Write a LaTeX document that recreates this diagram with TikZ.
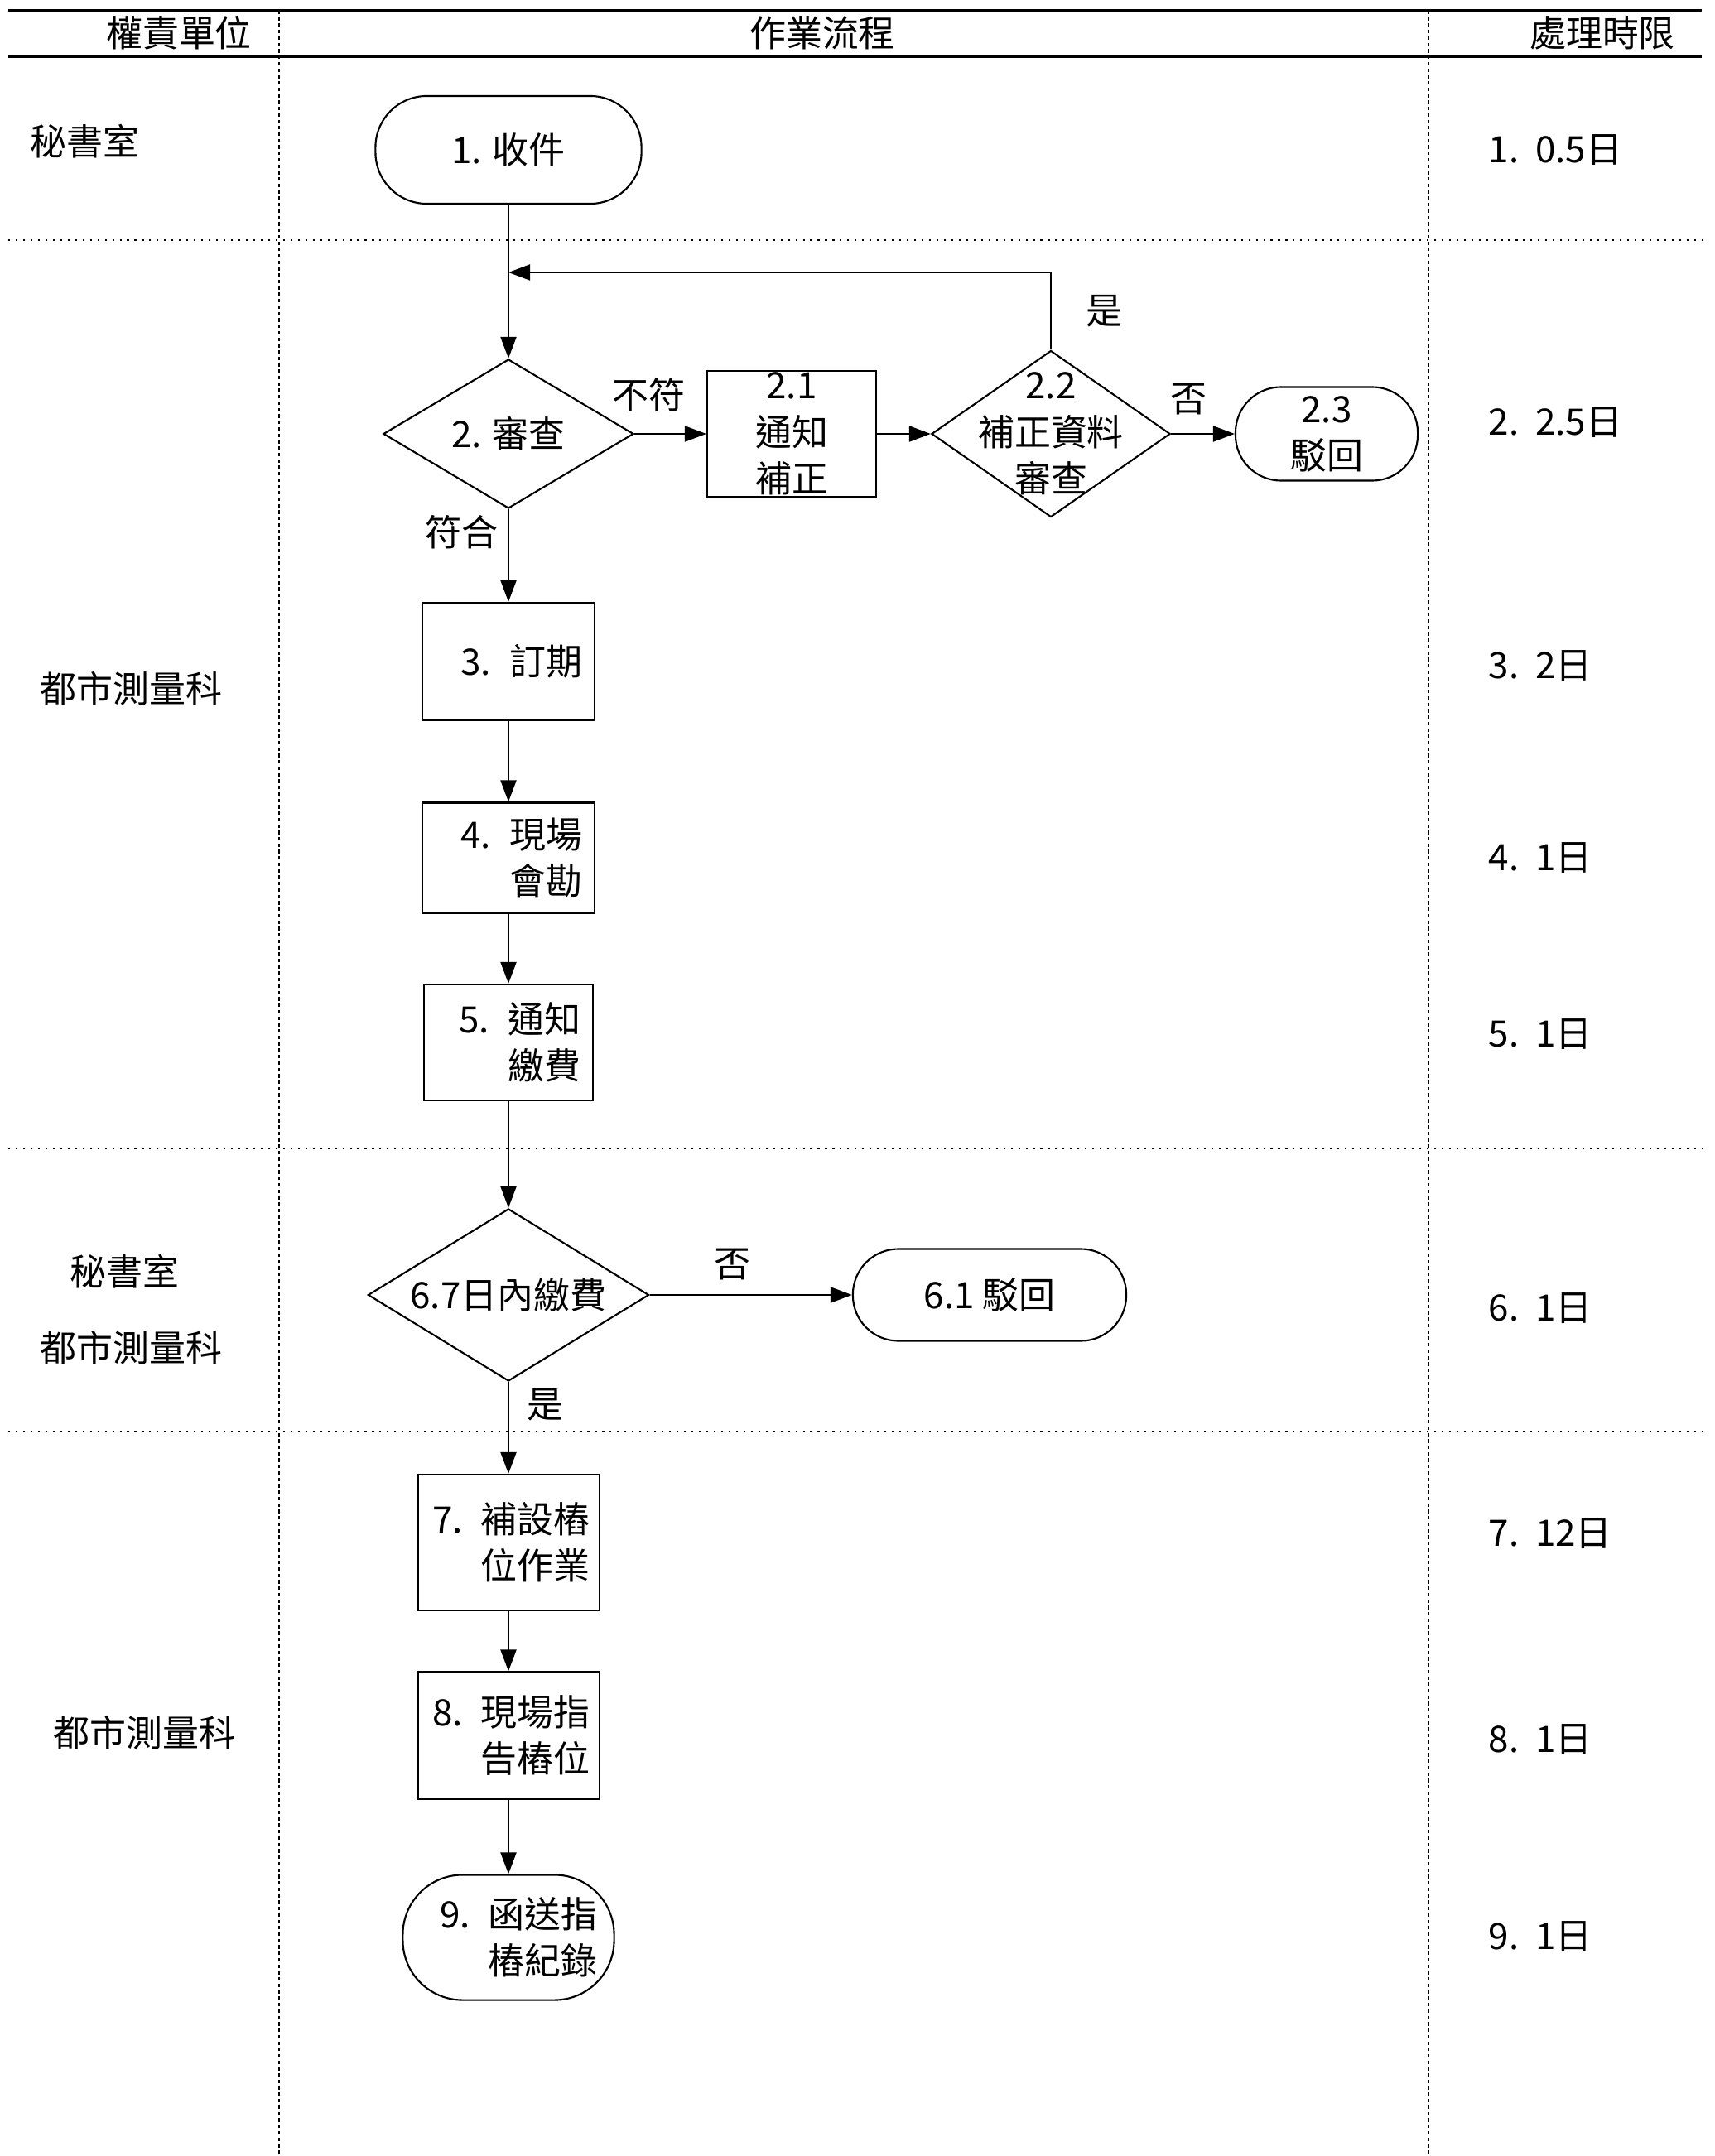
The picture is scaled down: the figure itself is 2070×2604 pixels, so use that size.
\documentclass[tikz,border=0pt]{standalone}
\usepackage{fontspec}
\setmainfont{Noto Sans CJK TC}
\usetikzlibrary{shapes.geometric,arrows.meta}

\begin{document}
\begin{tikzpicture}[x=0.01cm, y=-0.01cm, >={Triangle[length=0.26cm,width=0.19cm]},
    font=\fontsize{12.5}{16}\selectfont, line width=0.6pt,
    term/.style={shape=rectangle, rounded corners=0.55cm, draw=black, align=center},
    proc/.style={shape=rectangle, draw=black, align=right, inner xsep=0.15cm},
    dec/.style={shape=diamond, draw=black, inner sep=0pt},
    lane/.style={dash pattern=on 1.2pt off 1pt, line width=0.5pt},
    band/.style={dash pattern=on 0.6pt off 1.95pt, line width=0.6pt}]
    \useasboundingbox (0,0) rectangle (2070,2604);

    \draw[line width=1pt] (10,13) -- (2055,13);
    \draw[line width=1pt] (10,68) -- (2055,68);
    \draw[lane] (337,13) -- (337,2604);
    \draw[lane] (1725,13) -- (1725,2604);
    \foreach \y in {290,1387,1729}
        \draw[band] (10,\y) -- (2062,\y);

    \node (H1) at (216,40) {權責單位};
    \node (H2) at (993,40) {作業流程};
    \node (H3) at (1935,40) {處理時限};

    \node[anchor=west] (U1) at (24,171) {秘書室};
    \node[anchor=west] (U2) at (36,832) {都市測量科};
    \node[anchor=west] (U3) at (72,1536) {秘書室};
    \node[anchor=west] (U4) at (36,1628) {都市測量科};
    \node[anchor=west] (U5) at (52,2093) {都市測量科};

    \node[anchor=west] (T1) at (1785,181) {1.\ \ 0.5日};
    \node[anchor=west] (T2) at (1785,510) {2.\ \ 2.5日};
    \node[anchor=west] (T3) at (1785,804) {3.\ \ 2日};
    \node[anchor=west] (T4) at (1785,1036) {4.\ \ 1日};
    \node[anchor=west] (T5) at (1785,1249) {5.\ \ 1日};
    \node[anchor=west] (T6) at (1785,1580) {6.\ \ 1日};
    \node[anchor=west] (T7) at (1785,1852) {7.\ \ 12日};
    \node[anchor=west] (T8) at (1785,2101) {8.\ \ 1日};
    \node[anchor=west] (T9) at (1785,2339) {9.\ \ 1日};

    \node[term, rounded corners=0.62cm, minimum width=3.21cm, minimum height=1.3cm] (A) at (614,181) {1. 收件};
    \node[dec, minimum width=3.02cm, minimum height=1.8cm, label=center:2. 審查] (B) at (614,524) {};
    \node[proc, align=center, inner sep=0pt, minimum width=2.04cm, minimum height=1.52cm] (C) at (956,524) {2.1\\通知\\補正};
    \node[dec, minimum width=2.88cm, minimum height=2.01cm, label={[align=center]center:2.2\\補正資料\\審查}] (D) at (1269,524) {};
    \node[term, inner sep=0pt, minimum width=2.2cm, minimum height=1.13cm] (E) at (1602,524) {2.3\\駁回};
    \node[proc, text width=1.78cm, minimum height=1.42cm] (F) at (614,799) {3. 訂期};
    \node[proc, text width=1.78cm, minimum height=1.33cm] (G) at (614,1036) {4. 現場\\會勘};
    \node[proc, text width=1.74cm, minimum height=1.40cm] (H) at (614,1259) {5. 通知\\繳費};
    \node[dec, minimum width=3.39cm, minimum height=2.08cm, label=center:6.7日內繳費] (I) at (614,1564) {};
    \node[term, minimum width=3.3cm, minimum height=1.11cm] (J) at (1195,1564) {6.1 駁回};
    \node[proc, text width=1.97cm, inner xsep=0.11cm, minimum height=1.64cm] (K) at (614,1863) {7. 補設樁\\位作業};
    \node[proc, text width=1.97cm, inner xsep=0.11cm, minimum height=1.53cm] (L) at (614,2096) {8. 現場指\\告樁位};
    \node[term, rounded corners=0.72cm, align=right, text width=2.15cm, inner xsep=0.2cm, minimum height=1.51cm] (M) at (614,2340) {9. 函送指\\樁紀錄};
    \coordinate (N) at (614,329);

    \path [->] (A) edge (B);
    \path [->] (B) edge node[pos=0.2, above=4pt] {不符} (C);
    \path [->] (C) edge (D);
    \path [->] (D) edge node[pos=0.28, above=3pt] {否} (E);
    \draw [->] (D.north) |- node[pos=0.25, right=0.3cm] {是} (N);
    \path [->] (B) edge node[pos=0.25, left] {符合} (F);
    \path [->] (F) edge (G);
    \path [->] (G) edge (H);
    \path [->] (H) edge (I);
    \path [->] (I) edge node[pos=0.41, above=1.5pt] {否} (J);
    \path [->] (I) edge node[pos=0.25, right=0.1cm] {是} (K);
    \path [->] (K) edge (L);
    \path [->] (L) edge (M);
\end{tikzpicture}
\end{document}
